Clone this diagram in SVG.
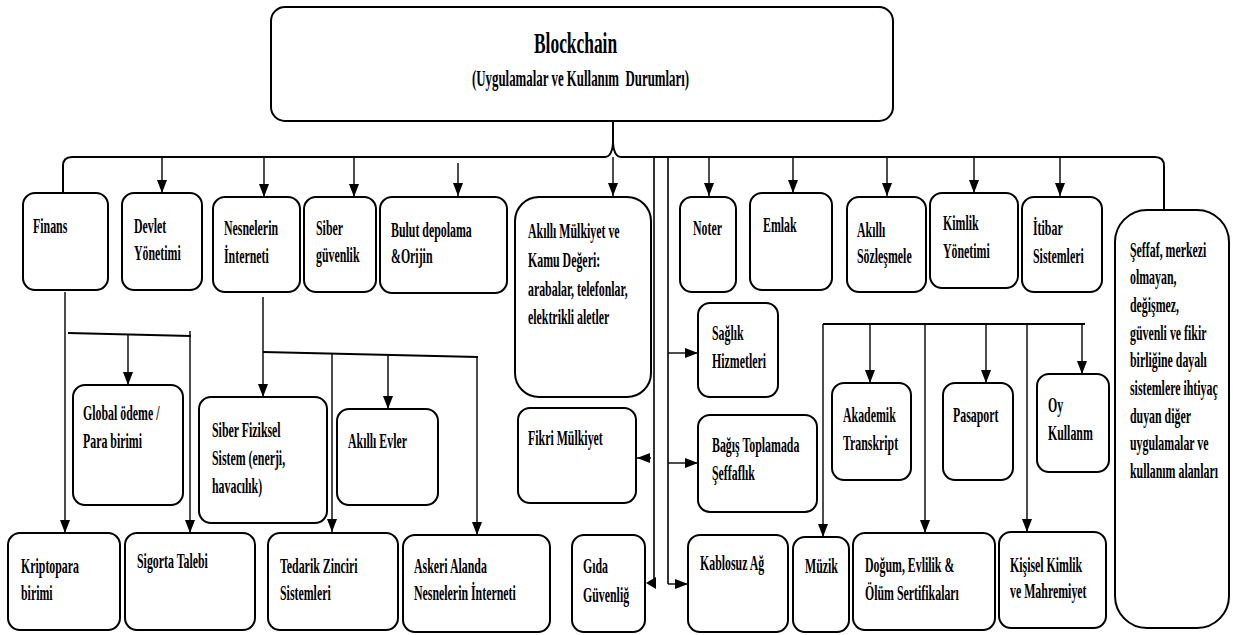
<svg xmlns="http://www.w3.org/2000/svg" width="1233" height="635" viewBox="0 0 1233 635">
  <style>
    .box { fill: #fff; stroke: #000; stroke-width: 2; }
    .bus { fill: none; stroke: #000; stroke-width: 2; }
    .arr { fill: none; stroke: #000; stroke-width: 1.4; marker-end: url(#ah); }
    .t, .h1, .h2 { font-family: "Liberation Serif", "Times New Roman", serif; font-weight: bold; fill: #000;
      transform-box: fill-box; transform-origin: 0 0; }
    .t { font-size: 22px; transform: scaleX(0.54); }
    .h1 { font-size: 29px; transform: scaleX(0.6); }
    .h2 { font-size: 23px; transform: scaleX(0.56); white-space: pre; }
  </style>
  <defs>
    <marker id="ah" markerUnits="userSpaceOnUse" markerWidth="13" markerHeight="10" viewBox="0 0 13 10" refX="13" refY="5" orient="auto">
      <path d="M0,0 L13,5 L0,10 Z" fill="#000"/>
    </marker>
  </defs>

  <!-- connectors -->
  <g id="connectors">
    <!-- main bus with brace under the root -->
    <path class="bus" d="M613,102 V143"/>
    <path class="bus" d="M63,193 V166 Q63,157 72,157 H605 C610,157 613,150 613,143 C613,150 616,157 621,157 H1155 Q1164,157 1164,166 V210"/>
    <path class="arr" d="M162,157 V193"/>
    <path class="arr" d="M264,157 V197"/>
    <path class="arr" d="M354,157 V197"/>
    <path class="arr" d="M458,163 V196"/>
    <path class="arr" d="M613,157 V196"/>
    <path class="arr" d="M709,157 V196"/>
    <path class="arr" d="M793,157 V193"/>
    <path class="arr" d="M887,157 V196"/>
    <path class="arr" d="M974,157 V193"/>
    <path class="arr" d="M1060,157 V196"/>

    <!-- finance branch -->
    <path class="arr" d="M65,292 V533"/>
    <path class="bus" d="M68,333 L191,336"/>
    <path class="arr" d="M128,334 V385"/>
    <path class="arr" d="M190,331 V533"/>

    <!-- internet of things branch -->
    <path class="arr" d="M263,297 V397"/>
    <path class="bus" d="M263,352 L478,357"/>
    <path class="arr" d="M332,353 V532"/>
    <path class="arr" d="M388,354 V409"/>
    <path class="arr" d="M477,356 V535"/>

    <!-- central verticals -->
    <path class="bus" d="M654,157 V584" style="stroke-width:1.6"/>
    <path d="M646,583 L656,577 L656,589 Z" fill="#000"/>
    <path class="arr" d="M651,458 H637"/>
    <path class="bus" d="M668,157 V584" style="stroke-width:1.6"/>
    <path class="arr" d="M668,353 H698"/>
    <path class="arr" d="M668,463 H698"/>
    <path class="arr" d="M668,584 H688"/>

    <!-- identity branch -->
    <path class="bus" d="M823,324 H1085"/>
    <path class="arr" d="M823,324 V537"/>
    <path class="arr" d="M870,324 V383"/>
    <path class="arr" d="M925,324 V533"/>
    <path class="arr" d="M986,324 V383"/>
    <path class="arr" d="M1027,324 V532"/>
    <path class="arr" d="M1082,324 V374"/>
  </g>

  <!-- root -->
  <g id="root">
    <rect class="box" x="271" y="7" width="622" height="114" rx="14"/>
    <text class="h1" x="534" y="53">Blockchain</text>
    <text class="h2" x="472" y="86">(Uygulamalar ve Kullanım  Durumları)</text>
  </g>

  <!-- first level -->
  <g id="finans">
    <rect class="box" x="23" y="193" width="85" height="97" rx="12"/>
    <text class="t" x="33" y="233">Finans</text>
  </g>
  <g id="devlet">
    <rect class="box" x="122" y="193" width="80" height="97" rx="12"/>
    <text class="t" x="134" y="233"><tspan x="134">Devlet</tspan><tspan x="134" y="260">Yönetimi</tspan></text>
  </g>
  <g id="nesnelerin">
    <rect class="box" x="213" y="197" width="87" height="95" rx="12"/>
    <text class="t" x="224" y="235"><tspan x="224">Nesnelerin</tspan><tspan x="224" y="263">İnterneti</tspan></text>
  </g>
  <g id="siber">
    <rect class="box" x="304" y="197" width="72" height="95" rx="12"/>
    <text class="t" x="316" y="235"><tspan x="316">Siber</tspan><tspan x="316" y="262">güvenlik</tspan></text>
  </g>
  <g id="bulut">
    <rect class="box" x="380" y="197" width="127" height="96" rx="12"/>
    <text class="t" x="391" y="237"><tspan x="391">Bulut depolama</tspan><tspan x="391" y="263">&amp;Orijin</tspan></text>
  </g>
  <g id="akilli-mulkiyet">
    <rect class="box" x="515" y="197" width="136" height="200" rx="24"/>
    <text class="t" x="528" y="238"><tspan x="528">Akıllı Mülkiyet ve</tspan><tspan x="528" y="267">Kamu Değeri:</tspan><tspan x="528" y="296">arabalar, telefonlar,</tspan><tspan x="528" y="324">elektrikli aletler</tspan></text>
  </g>
  <g id="noter">
    <rect class="box" x="680" y="197" width="56" height="95" rx="12"/>
    <text class="t" x="693" y="235">Noter</text>
  </g>
  <g id="emlak">
    <rect class="box" x="750" y="193" width="82" height="97" rx="12"/>
    <text class="t" x="763" y="232">Emlak</text>
  </g>
  <g id="akilli-sozlesme">
    <rect class="box" x="847" y="197" width="79" height="95" rx="12"/>
    <text class="t" x="857" y="237"><tspan x="857">Akıllı</tspan><tspan x="857" y="263">Sözleşmele</tspan></text>
  </g>
  <g id="kimlik">
    <rect class="box" x="930" y="193" width="88" height="95" rx="12"/>
    <text class="t" x="943" y="230"><tspan x="943">Kimlik</tspan><tspan x="943" y="258">Yönetimi</tspan></text>
  </g>
  <g id="itibar">
    <rect class="box" x="1022" y="197" width="80" height="95" rx="12"/>
    <text class="t" x="1033" y="235"><tspan x="1033">İtibar</tspan><tspan x="1033" y="263">Sistemleri</tspan></text>
  </g>
  <g id="diger">
    <rect class="box" x="1115" y="210" width="114" height="418" rx="32"/>
    <text class="t" x="1130" y="257"><tspan x="1130">Şeffaf, merkezi</tspan><tspan x="1130" y="284">olmayan,</tspan><tspan x="1130" y="312">değişmez,</tspan><tspan x="1130" y="340">güvenli ve fikir</tspan><tspan x="1130" y="367">birliğine dayalı</tspan><tspan x="1130" y="395">sistemlere ihtiyaç</tspan><tspan x="1130" y="423">duyan diğer</tspan><tspan x="1130" y="450">uygulamalar ve</tspan><tspan x="1130" y="478">kullanım alanları</tspan></text>
  </g>

  <!-- second level -->
  <g id="global-odeme">
    <rect class="box" x="73" y="385" width="110" height="120" rx="12"/>
    <text class="t" x="83" y="420"><tspan x="83">Global ödeme /</tspan><tspan x="83" y="448">Para birimi</tspan></text>
  </g>
  <g id="siber-fiziksel">
    <rect class="box" x="199" y="397" width="128" height="126" rx="12"/>
    <text class="t" x="212" y="437"><tspan x="212">Siber Fiziksel</tspan><tspan x="212" y="465">Sistem (enerji,</tspan><tspan x="212" y="493">havacılık)</tspan></text>
  </g>
  <g id="akilli-evler">
    <rect class="box" x="337" y="409" width="101" height="96" rx="12"/>
    <text class="t" x="348" y="448">Akıllı Evler</text>
  </g>
  <g id="saglik">
    <rect class="box" x="698" y="303" width="80" height="94" rx="12"/>
    <text class="t" x="712" y="340"><tspan x="712">Sağlık</tspan><tspan x="712" y="368">Hizmetleri</tspan></text>
  </g>
  <g id="fikri">
    <rect class="box" x="518" y="408" width="118" height="95" rx="12"/>
    <text class="t" x="528" y="445">Fikri Mülkiyet</text>
  </g>
  <g id="bagis">
    <rect class="box" x="698" y="415" width="119" height="97" rx="12"/>
    <text class="t" x="712" y="452"><tspan x="712">Bağış Toplamada</tspan><tspan x="712" y="480">Şeffaflık</tspan></text>
  </g>
  <g id="akademik">
    <rect class="box" x="832" y="383" width="79" height="97" rx="12"/>
    <text class="t" x="843" y="422"><tspan x="843">Akademik</tspan><tspan x="843" y="450">Transkript</tspan></text>
  </g>
  <g id="pasaport">
    <rect class="box" x="943" y="383" width="70" height="97" rx="12"/>
    <text class="t" x="953" y="422">Pasaport</text>
  </g>
  <g id="oy">
    <rect class="box" x="1037" y="374" width="72" height="98" rx="12"/>
    <text class="t" x="1048" y="412"><tspan x="1048">Oy</tspan><tspan x="1048" y="440">Kullanm</tspan></text>
  </g>

  <!-- bottom row -->
  <g id="kriptopara">
    <rect class="box" x="8" y="533" width="112" height="97" rx="12"/>
    <text class="t" x="21" y="573"><tspan x="21">Kriptopara</tspan><tspan x="21" y="600">birimi</tspan></text>
  </g>
  <g id="sigorta">
    <rect class="box" x="125" y="533" width="130" height="97" rx="12"/>
    <text class="t" x="137" y="568">Sigorta Talebi</text>
  </g>
  <g id="tedarik">
    <rect class="box" x="268" y="533" width="130" height="97" rx="12"/>
    <text class="t" x="280" y="573"><tspan x="280">Tedarik Zinciri</tspan><tspan x="280" y="600">Sistemleri</tspan></text>
  </g>
  <g id="askeri">
    <rect class="box" x="403" y="535" width="147" height="97" rx="12"/>
    <text class="t" x="414" y="573"><tspan x="414">Askeri Alanda</tspan><tspan x="414" y="600">Nesnelerin İnterneti</tspan></text>
  </g>
  <g id="gida">
    <rect class="box" x="572" y="535" width="73" height="97" rx="12"/>
    <text class="t" x="583" y="573"><tspan x="583">Gıda</tspan><tspan x="583" y="602">Güvenliğ</tspan></text>
  </g>
  <g id="kablosuz">
    <rect class="box" x="688" y="535" width="100" height="97" rx="12"/>
    <text class="t" x="700" y="570">Kablosuz Ağ</text>
  </g>
  <g id="muzik">
    <rect class="box" x="793" y="537" width="56" height="95" rx="12"/>
    <text class="t" x="805" y="573">Müzik</text>
  </g>
  <g id="dogum">
    <rect class="box" x="853" y="533" width="142" height="97" rx="12"/>
    <text class="t" x="865" y="572"><tspan x="865">Doğum, Evlilik &amp;</tspan><tspan x="865" y="600">Ölüm Sertifikaları</tspan></text>
  </g>
  <g id="kisisel">
    <rect class="box" x="999" y="532" width="107" height="96" rx="12"/>
    <text class="t" x="1010" y="572"><tspan x="1010">Kişisel Kimlik</tspan><tspan x="1010" y="598">ve Mahremiyet</tspan></text>
  </g>
</svg>
